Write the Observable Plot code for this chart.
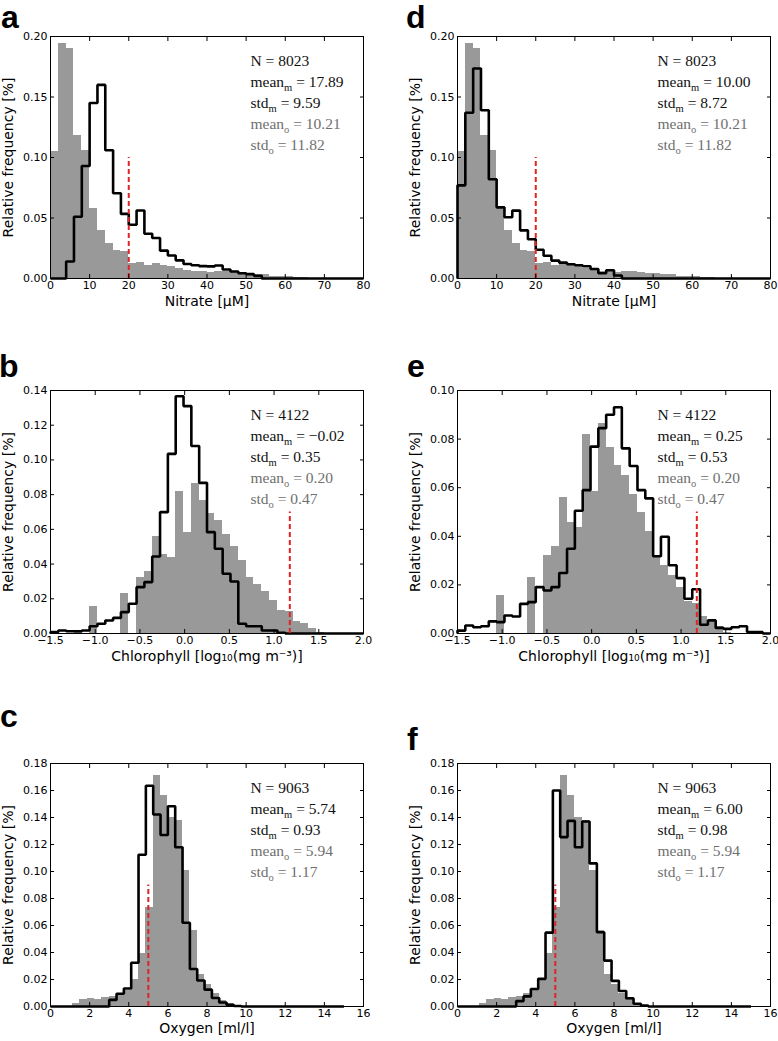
<!DOCTYPE html>
<html><head><meta charset="utf-8">
<script src="https://cdn.jsdelivr.net/npm/d3@7"></script>
<script src="https://cdn.jsdelivr.net/npm/@observablehq/plot@0.6"></script>
<style>
body{margin:0;background:#fff;}
#fig{position:relative;width:778px;height:1041px;overflow:hidden;background:#fff;}
.panel{position:absolute;}
.letter{position:absolute;font-family:"Liberation Sans",Arial,sans-serif;font-weight:bold;font-size:32px;line-height:24px;color:#000;}
</style></head><body><div id="fig"></div>
<script>
// ---------- data ----------
const nitrateRange = [0, 80];
const chlRange = [-1.5, 2.0];
const oxygenRange = [0, 15];

// observed (grey) relative frequencies, 40 bins each
const nitrateObs = [0.105,0.194,0.190,0.118,0.106,0.058,0.040,0.029,0.023,0.022,
  0.012,0.013,0.011,0.012,0.011,0.010,0.008,0.007,0.006,0.006,
  0.005,0.006,0.006,0.005,0.004,0.004,0.003,0.003,0.002,0.002,
  0.002,0.001,0.001,0,0,0,0,0,0,0];
const chlObs = [0,0,0,0,0,0.0157,0,0,0,0.023,
  0,0.032,0.0357,0.056,0.0455,0.0437,0.082,0.0584,0.0863,0.0765,
  0.069,0.065,0.057,0.050,0.042,0.032,0.028,0.024,0.019,0.013,
  0.0125,0.007,0.0055,0.0027,0.0005,0,0,0,0,0];
const oxygenObs = [0,0,0,0.0025,0.005,0.006,0.0055,0.007,0.0075,0.0097,
  0.012,0.020,0.039,0.073,0.171,0.156,0.140,0.138,0.101,0.056,
  0.024,0.016,0.0094,0.0045,0.0022,0.0006,0,0,0,0,
  0,0,0,0,0,0,0,0,0,0];

// modelled (black step) relative frequencies
const nitrateModA = [0,0,0.014,0.051,0.093,0.145,0.160,0.106,0.0705,0.0534,
  0.0444,0.0562,0.037,0.0335,0.023,0.019,0.015,0.012,0.011,0.0102,
  0.010,0.0107,0.0075,0.0058,0.0044,0.0036,0.0022,0,0,0,
  0,0,0,0,0,0,0,0,0,0];
const nitrateModD = [0.077,0.137,0.1735,0.139,0.082,0.0588,0.0506,0.0561,0.0398,0.0325,
  0.0238,0.0188,0.0148,0.0131,0.0118,0.0109,0.0101,0.0079,0.0043,0.0068,
  0.0025,0,0,0,0,0,0,0,0,0,
  0,0,0,0,0,0,0,0,0,0];
const chlModB = [0.0008,0.0017,0.0013,0.0012,0.0017,0.0042,0.0056,0.0075,0.009,0.0123,
  0.0171,0.0267,0.0296,0.0444,0.0699,0.1035,0.1367,0.131,0.108,0.0868,
  0.0584,0.0488,0.0344,0.030,0.0056,0.0042,0.0042,0.0017,0.0017,0.0004,
  0,0,0,0,0,0,0,0,0,0];
const chlModE = [0.0012,0.0033,0.0026,0.003,0.005,0.0047,0.0074,0.007,0.0122,0.0129,
  0.0191,0.0177,0.0191,0.0249,0.0349,0.0505,0.059,0.0769,0.0845,0.090,
  0.0931,0.0762,0.0689,0.059,0.0556,0.0318,0.0398,0.0281,0.0228,0.0143,
  0.0182,0.0036,0.0054,0.0023,0.0019,0.0026,0.003,0.0006,0.0006,0];
const oxygenModC = [0,0,0,0,0,0,0,0,0.0049,0.0094,
  0.0133,0.0324,0.1124,0.1635,0.1422,0.127,0.1483,0.118,0.062,0.0278,
  0.0193,0.0125,0.0063,0.003,0.0012,0.0004,0,0,0,0,
  0,0,0,0,0,0,0,0,0,0];
const oxygenModF = [0,0,0,0,0,0,0,0,0.004,0.0075,
  0.013,0.0205,0.0547,0.160,0.1255,0.1375,0.118,0.137,0.106,0.055,
  0.034,0.019,0.0115,0.006,0.002,0.0007,0,0,0,0,
  0,0,0,0,0,0,0,0,0,0];

// thresholds (red dashed) : [x, top]
const nitrateThr = [{x: 20, top: 0.10}];
const chlThrB = [{x: 1.176, top: 0.07}];
const chlThrE = [{x: 1.176, top: 0.05}];
const oxygenThr = [{x: 5, top: 0.09}];

// ticks
const nitrateTicks = [0,10,20,30,40,50,60,70,80];
const chlTicks = [-1.5,-1.0,-0.5,0,0.5,1.0,1.5,2.0];
const oxygenTicks = [0,2,4,6,8,10,12,14,16];
const yTicksNitrate = [0,0.05,0.10,0.15,0.20];
const yTicksChlB = [0,0.02,0.04,0.06,0.08,0.10,0.12,0.14];
const yTicksChlE = [0,0.02,0.04,0.06,0.08,0.10];
const yTicksOxygen = [0,0.02,0.04,0.06,0.08,0.10,0.12,0.14,0.16,0.18];

// annotation texts
const statsA = ["N = 8023","mean_m = 17.89","std_m = 9.59","mean_o = 10.21","std_o = 11.82"];
const statsD = ["N = 8023","mean_m = 10.00","std_m = 8.72","mean_o = 10.21","std_o = 11.82"];
const statsB = ["N = 4122","mean_m = \u22120.02","std_m = 0.35","mean_o = 0.20","std_o = 0.47"];
const statsE = ["N = 4122","mean_m = 0.25","std_m = 0.53","mean_o = 0.20","std_o = 0.47"];
const statsC = ["N = 9063","mean_m = 5.74","std_m = 0.93","mean_o = 5.94","std_o = 1.17"];
const statsF = ["N = 9063","mean_m = 6.00","std_m = 0.98","mean_o = 5.94","std_o = 1.17"];

const yLabel = "Relative frequency [%]";
const xLabels = ["Nitrate [\u03bcM]", "Chlorophyll [log\u2081\u2080(mg m\u207b\u00b3)]", "Oxygen [ml/l]"];
const letters = ["a","b","c","d","e","f"];

// ---------- layout ----------
const cols = [{left: 0, width: 389, ml: 50, mr: 26}, {left: 407, width: 371, ml: 50, mr: 8}];
const rows = [{top: 0, height: 310, mt: 36, mb: 32, xdy: 23},
              {top: 340, height: 325, mt: 50, mb: 32, xdy: 23},
              {top: 700, height: 341, mt: 63, mb: 35, xdy: 22}];
const letterPos = [{x: 1, y: 5}, {x: -1, y: 354}, {x: 0, y: 704}, {x: 406, y: 5}, {x: 407, y: 354}, {x: 407, y: 727}];

const panels = [
  {col:0,row:0,range:nitrateRange,domain:[0,80],obs:nitrateObs,mod:nitrateModA,xTicks:nitrateTicks,xFmt:d3.format("d"),yMax:0.20,yTicks:yTicksNitrate,thr:nitrateThr,stats:statsA,xLabel:xLabels[0]},
  {col:0,row:1,range:chlRange,domain:[-1.5,2],obs:chlObs,mod:chlModB,xTicks:chlTicks,xFmt:d3.format(".1f"),yMax:0.14,yTicks:yTicksChlB,thr:chlThrB,stats:statsB,xLabel:xLabels[1]},
  {col:0,row:2,range:oxygenRange,domain:[0,16],obs:oxygenObs,mod:oxygenModC,xTicks:oxygenTicks,xFmt:d3.format("d"),yMax:0.18,yTicks:yTicksOxygen,thr:oxygenThr,stats:statsC,xLabel:xLabels[2]},
  {col:1,row:0,range:nitrateRange,domain:[0,80],obs:nitrateObs,mod:nitrateModD,xTicks:nitrateTicks,xFmt:d3.format("d"),yMax:0.20,yTicks:yTicksNitrate,thr:nitrateThr,stats:statsD,xLabel:xLabels[0]},
  {col:1,row:1,range:chlRange,domain:[-1.5,2],obs:chlObs,mod:chlModE,xTicks:chlTicks,xFmt:d3.format(".1f"),yMax:0.10,yTicks:yTicksChlE,thr:chlThrE,stats:statsE,xLabel:xLabels[1]},
  {col:1,row:2,range:oxygenRange,domain:[0,16],obs:oxygenObs,mod:oxygenModF,xTicks:oxygenTicks,xFmt:d3.format("d"),yMax:0.18,yTicks:yTicksOxygen,thr:oxygenThr,stats:statsF,xLabel:xLabels[2]}
];

const fig = document.getElementById("fig");
const SVGNS = "http://www.w3.org/2000/svg";

function subscriptify(svg) {
  svg.querySelectorAll("text").forEach(t => {
    if (t.children.length) return;
    const m = /^([A-Za-z]+)_([a-z])(.*)$/.exec(t.textContent);
    if (!m) return;
    t.textContent = "";
    t.appendChild(document.createTextNode(m[1]));
    const sub = document.createElementNS(SVGNS, "tspan");
    sub.setAttribute("font-size", "10.5");
    sub.setAttribute("dy", "3.5");
    sub.textContent = m[2];
    t.appendChild(sub);
    const rest = document.createElementNS(SVGNS, "tspan");
    rest.setAttribute("dy", "-3.5");
    rest.textContent = m[3];
    t.appendChild(rest);
  });
}

panels.forEach((p, k) => {
  const c = cols[p.col], r = rows[p.row];
  const n = p.obs.length;
  const w = (p.range[1] - p.range[0]) / n;
  const bins = p.obs.map((v, i) => ({x1: p.range[0] + i * w, x2: p.range[0] + (i + 1) * w, obs: v, mod: p.mod[i]}));
  const step = [{x: p.range[0], y: 0}, ...bins.map(b => ({x: b.x1, y: b.mod})), {x: p.range[1], y: 0}];

  const statMarks = p.stats.map((s, i) => Plot.text([s], {
    frameAnchor: "top-left", dx: 200, dy: 25 + 21 * i, text: d => d,
    textAnchor: "start", lineAnchor: "middle",
    fontFamily: "'Liberation Serif', 'Times New Roman', serif", fontSize: 15.5,
    fill: i < 3 ? "#111111" : "#6f6f6f"
  }));

  const svg = Plot.plot({
    width: c.width, height: r.height,
    marginLeft: c.ml, marginRight: c.mr, marginTop: r.mt, marginBottom: r.mb,
    x: {domain: p.domain},
    y: {domain: [0, p.yMax]},
    style: {fontFamily: "'DejaVu Sans', sans-serif", fontSize: "11px", color: "#000", background: "transparent", overflow: "visible"},
    marks: [
      Plot.rect(bins, {x1: "x1", x2: "x2", y1: () => 0, y2: "obs", fill: "#999999", inset: 0, shapeRendering: "crispEdges"}),
      Plot.line(step, {x: "x", y: "y", curve: "step-after", stroke: "#000", strokeWidth: 2.6, strokeLinejoin: "miter", strokeLinecap: "butt"}),
      Plot.ruleX(p.thr, {x: "x", y1: () => 0, y2: "top", stroke: "#e02424", strokeWidth: 2, strokeDasharray: "5,3"}),
      Plot.frame({stroke: "#000", strokeWidth: 1}),
      Plot.axisX({ticks: p.xTicks, tickFormat: p.xFmt, tickSize: 0, tickPadding: 3, label: null}),
      Plot.axisX({ticks: p.xTicks, tickSize: -4, tickFormat: () => "", label: null}),
      Plot.axisX({anchor: "top", ticks: p.xTicks, tickSize: -4, tickFormat: () => "", label: null}),
      Plot.axisY({ticks: p.yTicks, tickFormat: d3.format(".2f"), tickSize: 0, tickPadding: 3, label: null}),
      Plot.axisY({ticks: p.yTicks, tickSize: -4, tickFormat: () => "", label: null}),
      Plot.axisY({anchor: "right", ticks: p.yTicks, tickSize: -4, tickFormat: () => "", label: null}),
      Plot.text([p.xLabel], {frameAnchor: "bottom", dy: r.xdy, text: d => d, fontSize: 14, textAnchor: "middle", lineAnchor: "middle"}),
      Plot.text([yLabel], {frameAnchor: "left", dx: -42, rotate: -90, text: d => d, fontSize: 14, textAnchor: "middle", lineAnchor: "middle"}),
      ...statMarks
    ]
  });
  subscriptify(svg);
  svg.classList.add("panel");
  svg.style.position = "absolute";
  svg.style.left = c.left + "px";
  svg.style.top = r.top + "px";
  fig.appendChild(svg);

  const L = document.createElement("div");
  L.className = "letter";
  L.textContent = letters[k];
  L.style.left = letterPos[k].x + "px";
  L.style.top = letterPos[k].y + "px";
  fig.appendChild(L);
});
</script>
</body></html>
